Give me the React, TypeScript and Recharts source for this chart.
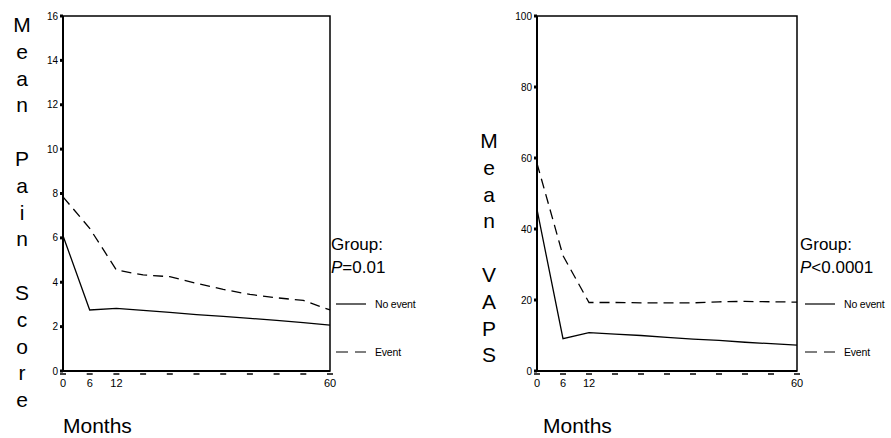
import * as React from 'react';
import {
  LineChart,
  Line,
  XAxis,
  YAxis,
  ReferenceArea,
} from 'recharts';

// Month grid shared by both panels
const MONTHS = [0, 6, 12, 18, 24, 30, 36, 42, 48, 54, 60];
const LABELLED_MONTHS = [0, 6, 12, 60];

// Mean pain score
const PAIN_NO_EVENT = [6.1, 2.75, 2.82, 2.73, 2.64, 2.54, 2.46, 2.37, 2.28, 2.18, 2.07];
const PAIN_EVENT = [7.85, 6.43, 4.55, 4.33, 4.25, 3.95, 3.68, 3.45, 3.3, 3.18, 2.75];
const PAIN_TICKS = [0, 2, 4, 6, 8, 10, 12, 14, 16];

// Mean VAPS
const VAPS_NO_EVENT = [45.5, 9.1, 10.8, 10.4, 10.0, 9.5, 9.0, 8.6, 8.1, 7.7, 7.3];
const VAPS_EVENT = [58.5, 32.5, 19.3, 19.3, 19.2, 19.2, 19.2, 19.5, 19.6, 19.5, 19.4];
const VAPS_TICKS = [0, 20, 40, 60, 80, 100];

const FONT = '"Liberation Sans", Arial, Helvetica, sans-serif';
const DASH = '10 6';

const painData = MONTHS.map((m, i) => ({
  month: m,
  noEvent: PAIN_NO_EVENT[i],
  event: PAIN_EVENT[i],
}));

const vapsData = MONTHS.map((m, i) => ({
  month: m,
  noEvent: VAPS_NO_EVENT[i],
  event: VAPS_EVENT[i],
}));

const MonthTick = (props: any) => {
  const { x, y, payload } = props;
  return (
    <g>
      <line x1={x - 3} x2={x + 3} y1={y + 3} y2={y + 3} stroke="#000" strokeWidth={1.5} />
      {LABELLED_MONTHS.includes(payload.value) && (
        <text x={x} y={y + 16} textAnchor="middle" fontSize={11} fill="#000" fontFamily={FONT}>
          {payload.value}
        </text>
      )}
    </g>
  );
};

interface PanelProps {
  data: any[];
  yMax: number;
  yTicks: number[];
  width: number;
  marginLeft: number;
  marginRight: number;
}

const Panel: React.FC<PanelProps> = ({ data, yMax, yTicks, width, marginLeft, marginRight }) => (
  <LineChart
    width={width}
    height={438}
    data={data}
    margin={{ top: 16, right: marginRight, bottom: 37, left: marginLeft }}
  >
    <ReferenceArea
      x1={0}
      x2={60}
      y1={0}
      y2={yMax}
      fill="none"
      stroke="#000"
      strokeWidth={1.5}
      ifOverflow="visible"
    />
    <XAxis
      dataKey="month"
      type="number"
      domain={[0, 60]}
      ticks={MONTHS}
      interval={0}
      height={30}
      tickSize={0}
      tickMargin={0}
      tickLine={false}
      axisLine={{ stroke: '#000', strokeWidth: 2 }}
      tick={<MonthTick />}
    />
    <YAxis
      type="number"
      domain={[0, yMax]}
      ticks={yTicks}
      interval={0}
      width={60}
      tickSize={3}
      tickMargin={2}
      axisLine={{ stroke: '#000', strokeWidth: 2 }}
      tickLine={{ stroke: '#000', strokeWidth: 3 }}
      tick={{ fill: '#000', fontSize: 10, fontFamily: FONT }}
    />
    <Line
      dataKey="noEvent"
      type="linear"
      stroke="#000"
      strokeWidth={1.3}
      dot={false}
      isAnimationActive={false}
    />
    <Line
      dataKey="event"
      type="linear"
      stroke="#000"
      strokeWidth={1.3}
      strokeDasharray={DASH}
      dot={false}
      isAnimationActive={false}
    />
  </LineChart>
);

const VerticalTitle = ({ text, x, y0 }: { text: string; x: number; y0: number }) => (
  <g>
    {text.split('').map((ch, i) =>
      ch === ' ' ? null : (
        <text key={i} x={x} y={y0 + i * 26.8} textAnchor="middle" fontSize={21} fontFamily={FONT} fill="#000">
          {ch}
        </text>
      )
    )}
  </g>
);

const GroupLegend = ({ x, p }: { x: number; p: string }) => (
  <g fontFamily={FONT} fill="#000">
    <text x={x} y={250} fontSize={17}>Group:</text>
    <text x={x} y={273} fontSize={17}>
      <tspan fontStyle="italic">P</tspan>
      {p}
    </text>
    <line x1={x + 5} x2={x + 35} y1={304} y2={304} stroke="#000" strokeWidth={1.2} />
    <text x={x + 44} y={308} fontSize={10.5} letterSpacing={-0.2}>No event</text>
    <line x1={x + 5} x2={x + 35} y1={352} y2={352} stroke="#000" strokeWidth={1.2} strokeDasharray="12 7" />
    <text x={x + 44} y={356} fontSize={10.5} letterSpacing={-0.2}>Event</text>
  </g>
);

export default function App() {
  return (
    <div style={{ position: 'absolute', left: 0, top: 0, width: 891, height: 438, background: '#fff', fontFamily: FONT }}>
      <div style={{ position: 'absolute', left: 0, top: 0 }}>
        <Panel data={painData} yMax={16} yTicks={PAIN_TICKS} width={445} marginLeft={3} marginRight={115} />
      </div>
      <div style={{ position: 'absolute', left: 460, top: 0 }}>
        <Panel data={vapsData} yMax={100} yTicks={VAPS_TICKS} width={431} marginLeft={17} marginRight={94} />
      </div>
      <svg width={891} height={438} style={{ position: 'absolute', left: 0, top: 0, pointerEvents: 'none' }}>
        <VerticalTitle text="Mean Pain Score" x={22} y0={32} />
        <VerticalTitle text="Mean VAPS" x={489} y0={148} />
        <text x={63} y={433} fontSize={21} fontFamily={FONT}>Months</text>
        <text x={543} y={433} fontSize={21} fontFamily={FONT}>Months</text>
        <GroupLegend x={331} p="=0.01" />
        <GroupLegend x={800} p="<0.0001" />
      </svg>
    </div>
  );
}
